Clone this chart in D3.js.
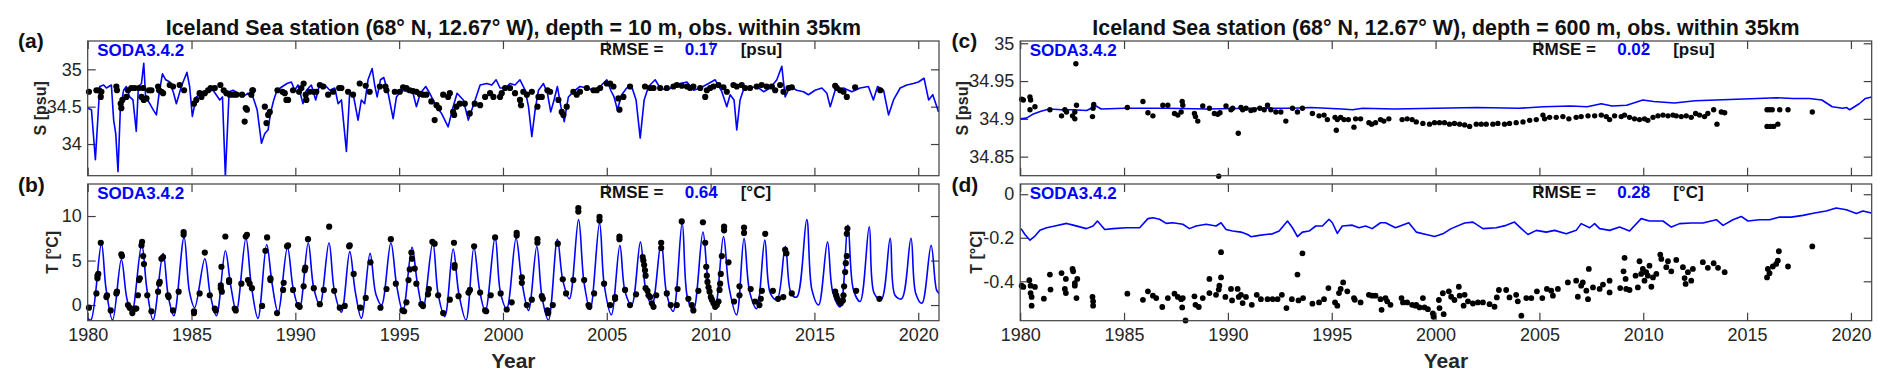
<!DOCTYPE html>
<html lang="en">
<head>
<meta charset="utf-8">
<title>Iceland Sea station</title>
<style>
  body { margin: 0; background: #fff; }
  svg text { font-family: "Liberation Sans", Arial, Helvetica, sans-serif; }
  .axis path { display: none; }
  .axis line { stroke: #404040; stroke-width: 1.2px; }
  .axis text { font-size: 18px; fill: #262626; }
  .frame { fill: none; stroke: #404040; stroke-width: 1.2px; }
  .model { fill: none; stroke: #0000ff; stroke-width: 1.6px; stroke-linejoin: round; }
  .obs { fill: #000; }
  .title { font-size: 21.4px; font-weight: bold; fill: #111; }
  .plabel { font-size: 21px; font-weight: bold; fill: #111; }
  .soda { font-size: 17px; font-weight: bold; fill: #0000ff; }
  .rmse { font-size: 17px; font-weight: bold; fill: #111; }
  .rmse.val { fill: #0000ff; }
  .ylab { font-size: 16px; font-weight: bold; fill: #262626; }
  .xlab { font-size: 21px; font-weight: bold; fill: #262626; }
</style>
</head>
<body>
<script src="https://cdnjs.cloudflare.com/ajax/libs/d3/7.8.5/d3.min.js"></script>
<script>
// ---- data (decimal year, value) ----
var yearTicks = [1980, 1985, 1990, 1995, 2000, 2005, 2010, 2015, 2020];
var yTicksA = [34, 34.5, 35];
var yTicksB = [0, 5, 10];
var yTicksC = [34.85, 34.9, 34.95, 35];
var yTicksD = [-0.4, -0.2, 0];
var titles = ["Iceland Sea station (68° N, 12.67° W), depth = 10 m, obs. within 35km",
              "Iceland Sea station (68° N, 12.67° W), depth = 600 m, obs. within 35km"];
var rmseValues = ["0.17", "0.64", "0.02", "0.28"];
var rmseUnits = ["[psu]", "[°C]", "[psu]", "[°C]"];

// (a) SODA salinity, 10 m
var salt10Model = [[1980.00,34.48],[1980.18,34.46],[1980.37,33.79],[1980.58,34.77],[1980.77,34.79],[1980.90,34.75],[1981.14,34.79],[1981.25,34.32],[1981.35,34.14],[1981.46,33.63],[1981.57,34.46],[1981.73,34.72],[1981.86,34.77],[1982.02,34.63],[1982.18,34.59],[1982.34,34.17],[1982.44,34.77],[1982.59,34.81],[1982.70,35.08],[1982.79,34.63],[1982.99,34.54],[1983.15,34.46],[1983.31,34.39],[1983.44,34.68],[1983.60,34.94],[1983.76,34.86],[1983.95,34.83],[1984.14,34.68],[1984.27,34.54],[1984.51,34.77],[1984.78,34.96],[1984.91,34.77],[1985.04,34.37],[1985.23,34.63],[1985.48,34.68],[1985.72,34.70],[1986.04,34.72],[1986.36,34.59],[1986.49,34.63],[1986.63,33.57],[1986.81,34.70],[1987.00,34.72],[1987.24,34.68],[1987.48,34.63],[1987.72,34.68],[1987.96,34.63],[1988.16,34.46],[1988.37,34.01],[1988.53,34.14],[1988.69,34.19],[1988.80,34.41],[1988.96,34.59],[1989.12,34.72],[1989.38,34.77],[1989.60,34.81],[1989.81,34.83],[1989.97,34.72],[1990.13,34.79],[1990.37,34.54],[1990.53,34.72],[1990.77,34.79],[1990.98,34.59],[1991.18,34.81],[1991.42,34.79],[1991.66,34.72],[1991.90,34.75],[1992.06,34.54],[1992.22,34.59],[1992.46,33.90],[1992.62,34.70],[1992.81,34.63],[1993.02,34.32],[1993.18,34.59],[1993.34,34.54],[1993.50,34.86],[1993.70,35.01],[1993.82,34.79],[1993.94,34.63],[1994.10,34.86],[1994.26,34.89],[1994.47,34.68],[1994.71,34.34],[1994.87,34.63],[1995.11,34.72],[1995.43,34.70],[1995.67,34.68],[1995.83,34.50],[1996.02,34.68],[1996.28,34.77],[1996.47,34.68],[1996.63,34.59],[1996.80,34.50],[1997.04,34.41],[1997.36,34.23],[1997.60,34.50],[1997.79,34.68],[1998.09,34.59],[1998.33,34.32],[1998.66,34.59],[1998.90,34.79],[1999.22,34.81],[1999.46,34.79],[1999.67,34.86],[1999.86,34.75],[2000.10,34.75],[2000.34,34.81],[2000.58,34.79],[2000.82,34.86],[2001.07,34.72],[2001.23,34.50],[2001.39,34.10],[2001.55,34.46],[2001.71,34.72],[2001.95,34.81],[2002.14,34.68],[2002.30,34.43],[2002.46,34.59],[2002.62,34.77],[2002.79,34.50],[2002.95,34.30],[2003.15,34.63],[2003.39,34.70],[2003.71,34.77],[2004.04,34.75],[2004.36,34.72],[2004.68,34.77],[2005.00,34.86],[2005.19,34.72],[2005.35,34.63],[2005.51,34.46],[2005.72,34.66],[2005.96,34.75],[2006.20,34.77],[2006.41,34.59],[2006.61,34.08],[2006.80,34.59],[2007.01,34.77],[2007.33,34.86],[2007.57,34.75],[2007.89,34.72],[2008.21,34.77],[2008.53,34.81],[2008.86,34.83],[2009.18,34.72],[2009.50,34.75],[2009.90,34.81],[2010.22,34.86],[2010.54,34.70],[2010.78,34.50],[2010.94,34.66],[2011.13,34.59],[2011.26,34.19],[2011.42,34.59],[2011.61,34.75],[2011.90,34.75],[2012.22,34.77],[2012.55,34.70],[2012.87,34.75],[2013.19,34.86],[2013.43,35.04],[2013.59,34.63],[2013.83,34.77],[2014.15,34.72],[2014.47,34.70],[2014.71,34.66],[2015.03,34.72],[2015.36,34.75],[2015.60,34.68],[2015.76,34.50],[2016.00,34.72],[2016.40,34.75],[2016.80,34.70],[2017.20,34.75],[2017.60,34.77],[2017.84,34.59],[2018.04,34.77],[2018.33,34.72],[2018.57,34.39],[2018.81,34.59],[2019.13,34.75],[2019.45,34.79],[2019.77,34.81],[2020.01,34.83],[2020.28,34.88],[2020.50,34.59],[2020.70,34.66],[2020.98,34.43]];

var salt10Obs = [[1980.06,34.70],[1980.42,34.72],[1980.55,34.72],[1980.63,34.63],[1980.66,34.70],[1981.38,34.77],[1981.41,34.72],[1981.59,34.54],[1981.62,34.48],[1981.67,34.59],[1981.86,34.63],[1981.94,34.72],[1982.10,34.75],[1982.26,34.75],[1982.47,34.75],[1982.59,34.63],[1982.67,34.75],[1982.70,34.59],[1982.83,34.61],[1982.95,34.72],[1983.07,34.72],[1983.39,34.77],[1983.44,34.72],[1983.55,34.70],[1983.63,34.68],[1983.95,34.79],[1984.11,34.77],[1984.43,34.79],[1984.64,34.72],[1985.12,34.54],[1985.23,34.59],[1985.39,34.68],[1985.48,34.63],[1985.64,34.68],[1985.80,34.72],[1985.92,34.75],[1986.12,34.75],[1986.39,34.79],[1986.55,34.72],[1986.68,34.68],[1986.84,34.66],[1987.00,34.66],[1987.16,34.66],[1987.43,34.66],[1987.56,34.30],[1987.61,34.48],[1987.67,34.46],[1987.88,34.66],[1987.93,34.72],[1987.96,34.72],[1988.53,34.50],[1988.61,34.28],[1988.69,34.39],[1988.77,34.43],[1989.14,34.72],[1989.38,34.70],[1989.49,34.68],[1989.57,34.59],[1989.65,34.59],[1989.89,34.72],[1990.18,34.70],[1990.29,34.75],[1990.40,34.81],[1990.50,34.66],[1990.53,34.59],[1990.69,34.70],[1990.89,34.70],[1991.01,34.70],[1991.18,34.79],[1991.34,34.77],[1991.58,34.66],[1991.82,34.70],[1992.11,34.75],[1992.22,34.75],[1992.54,34.70],[1992.78,34.66],[1993.10,34.81],[1993.39,34.78],[1993.58,34.70],[1994.07,34.77],[1994.34,34.77],[1994.39,34.72],[1994.79,34.70],[1995.03,34.70],[1995.19,34.76],[1995.35,34.75],[1995.51,34.72],[1995.67,34.71],[1995.83,34.70],[1995.99,34.67],[1996.15,34.66],[1996.31,34.66],[1996.55,34.57],[1996.71,34.32],[1996.80,34.52],[1996.92,34.48],[1997.12,34.66],[1997.36,34.63],[1997.44,34.68],[1997.60,34.43],[1997.65,34.39],[1997.76,34.50],[1997.92,34.54],[1998.16,34.54],[1998.40,34.41],[1998.64,34.54],[1998.90,34.52],[1999.14,34.63],[1999.38,34.68],[1999.54,34.63],[1999.86,34.63],[1999.94,34.68],[2000.10,34.75],[2000.34,34.75],[2000.58,34.68],[2000.82,34.59],[2000.87,34.52],[2000.98,34.70],[2001.15,34.66],[2001.39,34.70],[2001.66,34.50],[2001.71,34.63],[2001.87,34.63],[2002.14,34.72],[2002.27,34.70],[2002.67,34.59],[2002.83,34.43],[2002.91,34.39],[2003.07,34.50],[2003.39,34.70],[2003.55,34.66],[2003.71,34.70],[2004.04,34.75],[2004.36,34.72],[2004.52,34.72],[2004.68,34.75],[2005.00,34.81],[2005.16,34.81],[2005.32,34.77],[2005.56,34.61],[2005.61,34.46],[2005.80,34.63],[2006.12,34.77],[2006.84,34.77],[2007.09,34.75],[2007.25,34.75],[2007.57,34.75],[2007.89,34.75],[2008.21,34.77],[2008.37,34.79],[2008.61,34.78],[2008.86,34.77],[2009.01,34.75],[2009.17,34.77],[2009.50,34.75],[2009.74,34.63],[2009.82,34.72],[2009.98,34.75],[2010.14,34.77],[2010.38,34.79],[2010.62,34.76],[2010.78,34.70],[2011.10,34.79],[2011.26,34.77],[2011.50,34.79],[2011.66,34.75],[2011.90,34.75],[2012.22,34.77],[2012.46,34.79],[2012.70,34.77],[2012.95,34.77],[2013.11,34.72],[2013.35,34.79],[2013.51,34.70],[2013.75,34.75],[2013.91,34.76],[2016.00,34.78],[2016.08,34.75],[2016.24,34.72],[2016.40,34.70],[2016.56,34.63],[2016.96,34.76],[2018.17,34.72]];

// (b) SODA temperature, 10 m (winter low, summer high, autumn value per year)
var temp10Model = [[1980.00,-1.5],[1980.15,-1.7],[1980.66,6.9],[1980.88,1.9],[1981.20,-1.7],[1981.62,5.1],[1981.88,0.8],[1982.12,-1.0],[1982.60,6.8],[1982.85,1.8],[1983.15,-1.7],[1983.63,5.8],[1983.88,1.0],[1984.15,-1.2],[1984.64,7.6],[1984.90,1.5],[1985.15,-0.3],[1985.64,5.2],[1985.90,1.2],[1986.20,-1.2],[1986.63,6.1],[1986.88,2.3],[1987.16,-0.7],[1987.62,7.5],[1987.88,2.2],[1988.20,-1.5],[1988.62,6.8],[1988.88,2.4],[1989.17,-0.8],[1989.62,6.5],[1989.90,1.8],[1990.20,-0.4],[1990.62,7.0],[1990.88,2.0],[1991.18,0.0],[1991.62,7.0],[1991.88,1.6],[1992.22,-0.8],[1992.62,6.0],[1992.88,1.6],[1993.18,-1.5],[1993.60,5.8],[1993.88,1.2],[1994.15,0.0],[1994.60,7.0],[1994.88,2.2],[1995.18,-0.7],[1995.62,6.5],[1995.88,2.4],[1996.15,-0.4],[1996.62,7.0],[1996.88,1.2],[1997.20,-1.3],[1997.60,6.3],[1997.88,1.2],[1998.22,-1.7],[1998.60,6.5],[1998.88,1.6],[1999.15,-0.7],[1999.62,7.6],[1999.88,1.4],[2000.18,-0.4],[2000.63,7.5],[2000.90,2.8],[2001.23,-0.6],[2001.63,6.6],[2001.88,0.9],[2002.19,-1.7],[2002.62,7.4],[2002.88,2.8],[2003.20,0.7],[2003.64,9.6],[2003.90,2.6],[2004.20,-0.5],[2004.65,9.2],[2004.88,2.2],[2005.22,-1.1],[2005.63,6.7],[2005.88,1.5],[2006.20,0.0],[2006.62,7.1],[2006.88,1.7],[2007.18,0.0],[2007.62,7.1],[2007.88,1.3],[2008.20,-0.7],[2008.63,9.2],[2008.88,0.9],[2009.17,-0.6],[2009.63,8.2],[2009.88,2.8],[2010.22,-0.2],[2010.62,7.7],[2010.88,2.1],[2011.25,-1.1],[2011.61,7.5],[2011.88,1.5],[2012.22,-0.4],[2012.61,7.3],[2012.88,1.3],[2013.20,0.6],[2013.60,6.6],[2013.88,1.3],[2014.15,0.9],[2014.63,9.6],[2014.88,1.7],[2015.20,0.0],[2015.63,7.1],[2015.88,1.5],[2016.24,-0.2],[2016.61,9.0],[2016.88,1.7],[2017.20,0.4],[2017.64,8.8],[2017.88,1.3],[2018.22,0.6],[2018.65,7.5],[2018.88,1.1],[2019.20,0.7],[2019.65,7.5],[2019.88,1.3],[2020.18,0.2],[2020.62,6.7],[2020.88,1.7],[2021.00,1.3]];

var temp10Obs = [[1980.06,-0.3],[1980.42,1.3],[1980.47,3.0],[1980.47,3.3],[1980.51,3.5],[1980.63,7.0],[1980.90,0.9],[1980.93,1.1],[1981.11,-0.6],[1981.38,1.3],[1981.41,1.5],[1981.62,5.7],[1981.65,5.5],[1981.94,0.0],[1982.02,-0.3],[1982.15,-0.9],[1982.26,-0.4],[1982.34,-0.4],[1982.42,1.1],[1982.47,2.8],[1982.51,3.0],[1982.59,6.7],[1982.62,7.1],[1982.67,5.5],[1982.71,4.6],[1982.87,1.1],[1983.07,-0.7],[1983.39,1.5],[1983.44,2.4],[1983.47,2.6],[1983.55,5.2],[1983.63,5.4],[1983.87,1.1],[1983.90,0.9],[1984.11,-0.6],[1984.38,1.5],[1984.62,8.2],[1984.62,7.9],[1985.12,-0.7],[1985.12,-0.9],[1985.39,1.3],[1985.64,5.9],[1985.88,1.1],[1986.12,-0.4],[1986.17,-0.6],[1986.44,4.3],[1986.41,2.2],[1986.41,1.9],[1986.46,1.5],[1986.63,7.7],[1986.81,2.8],[1986.81,2.6],[1987.08,-0.4],[1987.13,-0.6],[1987.40,2.4],[1987.61,7.7],[1987.67,7.9],[1987.72,2.8],[1987.80,2.4],[1987.91,1.9],[1988.40,-0.1],[1988.56,6.1],[1988.64,7.6],[1988.80,3.0],[1988.80,2.8],[1989.12,-0.9],[1989.41,1.7],[1989.44,2.5],[1989.60,6.6],[1989.65,6.7],[1989.89,1.7],[1990.13,0.0],[1990.21,-0.2],[1990.40,2.1],[1990.45,3.9],[1990.48,4.2],[1990.61,7.4],[1990.89,1.9],[1991.18,0.1],[1991.37,1.7],[1991.63,8.8],[1991.87,1.6],[1992.14,-0.3],[1992.38,-0.1],[1992.59,6.6],[1992.62,6.7],[1992.81,3.5],[1993.13,-0.3],[1993.39,0.8],[1993.62,4.8],[1994.10,-0.3],[1994.39,1.8],[1994.60,7.4],[1994.84,2.4],[1995.16,-0.6],[1995.24,-0.7],[1995.35,0.3],[1995.45,2.8],[1995.51,4.0],[1995.59,5.9],[1995.62,5.2],[1995.75,4.1],[1995.83,2.4],[1996.07,0.1],[1996.15,-0.1],[1996.39,1.2],[1996.43,1.8],[1996.60,7.1],[1996.71,6.9],[1996.88,1.1],[1997.12,-0.9],[1997.44,0.6],[1997.64,7.0],[1997.67,4.5],[1997.67,4.2],[1997.86,1.0],[1998.34,1.4],[1998.41,1.7],[1998.61,6.6],[1998.90,1.4],[1999.14,-0.6],[1999.19,-0.7],[1999.41,1.1],[1999.62,7.6],[1999.89,1.3],[2000.18,-0.5],[2000.42,0.3],[2000.66,8.1],[2000.66,7.8],[2000.91,3.1],[2000.91,2.5],[2001.15,0.0],[2001.39,0.6],[2001.66,7.4],[2001.66,7.0],[2001.87,1.0],[2001.92,0.7],[2002.14,-0.6],[2002.18,-0.9],[2002.40,0.0],[2002.64,6.9],[2002.88,2.9],[2003.04,1.3],[2003.39,2.8],[2003.63,10.9],[2003.63,10.5],[2003.91,2.8],[2004.12,0.0],[2004.16,-0.2],[2004.39,1.3],[2004.65,9.9],[2004.65,9.5],[2004.87,2.4],[2005.16,0.0],[2005.40,0.7],[2005.40,0.9],[2005.61,7.7],[2005.61,7.4],[2005.88,1.7],[2006.12,0.0],[2006.41,1.2],[2006.73,5.4],[2006.76,5.0],[2006.80,4.5],[2006.84,3.9],[2006.87,3.3],[2006.87,1.9],[2006.96,1.6],[2007.01,1.1],[2007.09,0.9],[2007.17,0.2],[2007.25,-0.2],[2007.38,1.1],[2007.62,7.0],[2007.62,6.4],[2007.89,1.3],[2008.08,0.0],[2008.37,0.0],[2008.41,1.8],[2008.61,9.4],[2008.93,0.7],[2009.09,0.0],[2009.17,-0.6],[2009.41,1.6],[2009.63,9.3],[2009.74,7.0],[2009.79,4.3],[2009.82,3.3],[2009.85,2.6],[2009.90,2.0],[2009.95,1.5],[2010.01,0.9],[2010.06,0.6],[2010.14,0.2],[2010.22,-0.2],[2010.30,0.0],[2010.38,0.4],[2010.43,1.7],[2010.46,2.4],[2010.49,3.5],[2010.54,5.5],[2010.65,8.8],[2010.65,8.4],[2010.86,4.8],[2011.13,0.4],[2011.39,1.1],[2011.39,2.1],[2011.61,8.7],[2011.61,8.1],[2011.93,1.8],[2012.14,0.4],[2012.35,0.0],[2012.42,0.7],[2012.47,1.6],[2012.63,8.0],[2013.00,1.6],[2013.25,0.7],[2013.50,0.9],[2013.59,6.2],[2013.65,5.8],[2013.91,1.3],[2016.00,1.5],[2016.05,1.1],[2016.11,0.7],[2016.21,0.4],[2016.27,0.2],[2016.37,0.5],[2016.40,1.1],[2016.43,2.1],[2016.48,3.7],[2016.51,4.7],[2016.56,5.5],[2016.56,8.0],[2016.59,8.6],[2017.01,1.6],[2018.13,0.7]];

// (c) SODA salinity, 600 m
var salt600Model = [[1980.0,34.900],[1980.3,34.901],[1980.6,34.906],[1981.0,34.910],[1981.4,34.913],[1982.0,34.912],[1982.5,34.912],[1983.2,34.911],[1983.5,34.915],[1983.65,34.917],[1983.9,34.913],[1985.0,34.914],[1987.0,34.914],[1989.0,34.913],[1991.0,34.914],[1993.0,34.914],[1994.0,34.915],[1995.5,34.913],[1996.0,34.912],[1996.5,34.914],[1998.0,34.913],[2000.0,34.914],[2002.0,34.915],[2004.0,34.914],[2005.2,34.916],[2006.5,34.917],[2007.3,34.916],[2007.98,34.920],[2008.5,34.917],[2009.2,34.918],[2009.98,34.925],[2010.5,34.923],[2011.5,34.921],[2012.5,34.924],[2013.5,34.925],[2014.5,34.926],[2015.5,34.927],[2016.4,34.928],[2017.2,34.927],[2018.0,34.927],[2018.6,34.925],[2019.1,34.916],[2019.6,34.914],[2019.8,34.915],[2019.94,34.912],[2020.4,34.920],[2020.7,34.927],[2021.0,34.929]];

var salt600Obs = [[1980.07,34.926],[1980.15,34.925],[1980.47,34.929],[1980.50,34.925],[1980.47,34.912],[1980.71,34.916],[1981.43,34.912],[1981.99,34.904],[1982.15,34.912],[1982.23,34.909],[1982.52,34.904],[1982.63,34.900],[1982.63,34.909],[1982.71,34.918],[1982.68,34.973],[1983.48,34.903],[1983.51,34.914],[1983.54,34.919],[1985.16,34.915],[1985.91,34.923],[1986.15,34.908],[1986.39,34.904],[1986.87,34.918],[1987.11,34.918],[1987.43,34.907],[1987.59,34.905],[1987.75,34.909],[1987.80,34.923],[1987.83,34.918],[1988.39,34.907],[1988.44,34.903],[1988.55,34.897],[1988.79,34.917],[1989.11,34.914],[1989.35,34.907],[1989.51,34.906],[1989.62,34.908],[1989.56,34.824],[1989.91,34.917],[1990.15,34.912],[1990.23,34.914],[1990.50,34.881],[1990.63,34.915],[1990.71,34.912],[1990.87,34.914],[1991.11,34.911],[1991.27,34.912],[1991.54,34.914],[1991.75,34.912],[1991.91,34.918],[1992.07,34.912],[1992.31,34.909],[1992.55,34.909],[1992.79,34.897],[1993.11,34.914],[1993.35,34.909],[1993.59,34.914],[1994.07,34.907],[1994.39,34.904],[1994.63,34.905],[1994.79,34.899],[1995.16,34.902],[1995.22,34.885],[1995.27,34.899],[1995.43,34.902],[1995.59,34.899],[1995.80,34.899],[1996.07,34.889],[1996.15,34.900],[1996.39,34.900],[1996.79,34.895],[1996.92,34.893],[1997.11,34.895],[1997.35,34.899],[1997.51,34.897],[1997.75,34.900],[1998.39,34.899],[1998.63,34.900],[1998.87,34.899],[1999.07,34.896],[1999.39,34.894],[1999.71,34.893],[1999.95,34.895],[2000.19,34.895],[2000.43,34.895],[2000.67,34.893],[2000.91,34.894],[2001.16,34.893],[2001.40,34.892],[2001.64,34.890],[2001.96,34.893],[2002.20,34.893],[2002.44,34.893],[2002.76,34.893],[2003.00,34.894],[2003.32,34.893],[2003.56,34.894],[2003.88,34.895],[2004.21,34.896],[2004.53,34.898],[2004.85,34.899],[2005.17,34.905],[2005.25,34.900],[2005.49,34.902],[2005.81,34.902],[2006.13,34.903],[2006.42,34.900],[2006.77,34.902],[2007.01,34.903],[2007.34,34.904],[2007.66,34.904],[2007.98,34.905],[2008.22,34.903],[2008.38,34.899],[2008.62,34.904],[2008.94,34.903],[2009.10,34.905],[2009.34,34.902],[2009.58,34.900],[2009.82,34.899],[2010.06,34.900],[2010.22,34.898],[2010.47,34.902],[2010.71,34.904],[2010.95,34.905],[2011.19,34.904],[2011.43,34.905],[2011.59,34.904],[2011.83,34.903],[2012.07,34.904],[2012.31,34.902],[2012.52,34.907],[2012.71,34.905],[2012.95,34.903],[2013.11,34.907],[2013.39,34.912],[2013.55,34.893],[2013.76,34.909],[2013.92,34.908],[2015.96,34.912],[2016.08,34.912],[2016.21,34.912],[2015.96,34.890],[2016.12,34.890],[2016.28,34.890],[2016.48,34.893],[2016.57,34.912],[2016.97,34.912],[2018.14,34.909]];

// (d) SODA temperature, 600 m
var temp600Model = [[1980.04,-0.158],[1980.23,-0.185],[1980.47,-0.211],[1980.71,-0.192],[1980.95,-0.165],[1981.27,-0.154],[1981.67,-0.146],[1982.23,-0.134],[1982.55,-0.142],[1983.19,-0.158],[1983.51,-0.146],[1983.72,-0.123],[1984.07,-0.162],[1984.47,-0.158],[1985.11,-0.154],[1985.75,-0.154],[1986.15,-0.112],[1986.39,-0.108],[1986.71,-0.115],[1987.03,-0.134],[1987.35,-0.131],[1987.83,-0.138],[1988.15,-0.158],[1988.47,-0.146],[1988.95,-0.138],[1989.43,-0.146],[1989.67,-0.131],[1989.91,-0.162],[1990.23,-0.169],[1990.63,-0.174],[1990.95,-0.185],[1991.11,-0.195],[1991.51,-0.189],[1991.83,-0.185],[1992.15,-0.182],[1992.47,-0.169],[1992.87,-0.123],[1993.11,-0.154],[1993.35,-0.195],[1993.59,-0.174],[1993.91,-0.169],[1994.23,-0.146],[1994.55,-0.146],[1994.87,-0.115],[1995.03,-0.131],[1995.27,-0.180],[1995.51,-0.146],[1995.99,-0.142],[1996.31,-0.154],[1996.63,-0.146],[1996.95,-0.158],[1997.35,-0.131],[1997.59,-0.131],[1998.07,-0.154],[1998.39,-0.142],[1998.71,-0.131],[1999.07,-0.174],[1999.55,-0.185],[1999.95,-0.194],[2000.35,-0.182],[2000.75,-0.158],[2001.40,-0.132],[2001.80,-0.128],[2002.28,-0.158],[2002.92,-0.154],[2003.40,-0.143],[2003.80,-0.128],[2004.13,-0.158],[2004.45,-0.185],[2004.85,-0.166],[2005.33,-0.174],[2005.73,-0.166],[2006.29,-0.182],[2006.77,-0.166],[2007.01,-0.135],[2007.42,-0.154],[2007.66,-0.135],[2007.90,-0.158],[2008.38,-0.166],[2008.86,-0.151],[2009.34,-0.169],[2009.90,-0.112],[2010.30,-0.123],[2010.95,-0.123],[2011.35,-0.151],[2011.75,-0.135],[2012.31,-0.132],[2012.87,-0.132],[2013.52,-0.117],[2013.84,-0.143],[2014.32,-0.117],[2014.72,-0.102],[2015.04,-0.123],[2015.60,-0.117],[2016.08,-0.117],[2016.57,-0.105],[2017.13,-0.105],[2017.69,-0.097],[2018.25,-0.086],[2018.81,-0.077],[2019.29,-0.063],[2019.78,-0.071],[2020.26,-0.089],[2020.58,-0.077],[2020.98,-0.086]];

var temp600Obs = [[1980.07,-0.420],[1980.15,-0.426],[1980.44,-0.395],[1980.50,-0.420],[1980.50,-0.454],[1980.55,-0.472],[1980.55,-0.512],[1980.71,-0.426],[1981.14,-0.480],[1981.43,-0.369],[1981.46,-0.438],[1981.99,-0.362],[1982.20,-0.389],[1982.15,-0.435],[1982.20,-0.454],[1982.52,-0.343],[1982.55,-0.354],[1982.63,-0.408],[1982.63,-0.420],[1982.75,-0.389],[1982.71,-0.477],[1983.48,-0.472],[1983.51,-0.492],[1983.51,-0.512],[1985.16,-0.457],[1985.91,-0.485],[1986.15,-0.446],[1986.39,-0.466],[1986.55,-0.477],[1986.84,-0.518],[1987.11,-0.477],[1987.43,-0.457],[1987.59,-0.472],[1987.75,-0.482],[1987.83,-0.477],[1987.80,-0.520],[1987.96,-0.580],[1988.39,-0.469],[1988.44,-0.508],[1988.60,-0.518],[1988.79,-0.477],[1989.11,-0.389],[1989.11,-0.454],[1989.43,-0.462],[1989.56,-0.438],[1989.59,-0.420],[1989.67,-0.266],[1989.67,-0.382],[1989.88,-0.472],[1990.15,-0.435],[1990.20,-0.488],[1990.47,-0.435],[1990.52,-0.472],[1990.63,-0.462],[1990.71,-0.500],[1990.87,-0.472],[1991.15,-0.508],[1991.39,-0.462],[1991.59,-0.482],[1991.91,-0.482],[1992.15,-0.482],[1992.39,-0.482],[1992.60,-0.462],[1992.82,-0.523],[1993.08,-0.482],[1993.35,-0.369],[1993.40,-0.488],[1993.59,-0.272],[1993.62,-0.477],[1994.07,-0.503],[1994.39,-0.497],[1994.63,-0.482],[1994.84,-0.431],[1995.16,-0.497],[1995.27,-0.512],[1995.35,-0.454],[1995.43,-0.435],[1995.55,-0.405],[1995.75,-0.446],[1996.07,-0.477],[1996.11,-0.485],[1996.39,-0.497],[1996.79,-0.462],[1996.95,-0.466],[1997.11,-0.466],[1997.35,-0.482],[1997.40,-0.531],[1997.59,-0.477],[1997.67,-0.492],[1997.83,-0.508],[1998.36,-0.477],[1998.43,-0.497],[1998.63,-0.497],[1998.87,-0.508],[1999.03,-0.512],[1999.07,-0.508],[1999.23,-0.520],[1999.39,-0.477],[1999.47,-0.520],[1999.63,-0.528],[1999.87,-0.548],[1999.90,-0.563],[2000.16,-0.486],[2000.19,-0.523],[2000.39,-0.551],[2000.35,-0.455],[2000.64,-0.446],[2000.75,-0.471],[2000.91,-0.486],[2001.12,-0.425],[2001.16,-0.466],[2001.40,-0.462],[2001.35,-0.512],[2001.56,-0.492],[2001.80,-0.502],[2002.04,-0.497],[2002.28,-0.497],[2002.60,-0.505],[2002.84,-0.517],[2002.95,-0.474],[2003.05,-0.440],[2003.40,-0.440],[2003.56,-0.474],[2003.88,-0.462],[2003.96,-0.492],[2004.13,-0.558],[2004.37,-0.477],[2004.61,-0.477],[2004.88,-0.446],[2005.14,-0.477],[2005.36,-0.435],[2005.57,-0.443],[2005.65,-0.466],[2005.89,-0.435],[2006.37,-0.405],[2006.77,-0.397],[2006.85,-0.471],[2007.01,-0.420],[2007.09,-0.405],[2007.26,-0.443],[2007.34,-0.482],[2007.38,-0.343],[2007.58,-0.428],[2007.90,-0.435],[2008.06,-0.415],[2008.38,-0.451],[2008.38,-0.397],[2008.89,-0.431],[2009.05,-0.354],[2009.10,-0.292],[2009.15,-0.389],[2009.18,-0.435],[2009.34,-0.440],[2009.63,-0.374],[2009.74,-0.428],[2009.82,-0.308],[2009.90,-0.366],[2009.98,-0.343],[2010.06,-0.397],[2010.14,-0.358],[2010.22,-0.374],[2010.30,-0.328],[2010.39,-0.425],[2010.47,-0.382],[2010.63,-0.366],[2010.82,-0.277],[2010.87,-0.297],[2011.11,-0.335],[2011.19,-0.308],[2011.35,-0.354],[2011.59,-0.302],[2011.91,-0.335],[2011.99,-0.385],[2012.04,-0.412],[2012.15,-0.358],[2012.31,-0.397],[2012.39,-0.343],[2012.87,-0.312],[2013.11,-0.338],[2013.39,-0.317],[2013.60,-0.338],[2013.92,-0.358],[2015.96,-0.382],[2016.00,-0.343],[2016.08,-0.363],[2016.24,-0.332],[2016.40,-0.320],[2016.48,-0.305],[2016.53,-0.262],[2016.97,-0.332],[2018.14,-0.240]];

// ---- layout ----
var W = 1892, H = 388;
var svg = d3.select("body").append("svg").attr("width", W).attr("height", H);

var colLeft = [87.7, 1020.2], colRight = [939, 1871.7];
var rowTop = [41, 184], rowBottom = [175.7, 320.7];

var panels = [
  { id: "a", col: 0, row: 0, dom: [33.576, 35.379], ticks: yTicksA, model: salt10Model, obs: salt10Obs, ylab: "S [psu]", ylabDx: -42, r: 3.1, curve: d3.curveLinear },
  { id: "b", col: 0, row: 1, dom: [-1.76, 13.6], ticks: yTicksB, model: temp10Model, obs: temp10Obs, ylab: "T [°C]", ylabDx: -30, r: 3.1, curve: d3.curveCatmullRom.alpha(0.5) },
  { id: "c", col: 1, row: 0, dom: [34.8248, 35.003], ticks: yTicksC, model: salt600Model, obs: salt600Obs, ylab: "S [psu]", ylabDx: -52, r: 2.7, curve: d3.curveLinear },
  { id: "d", col: 1, row: 1, dom: [-0.581, 0.047], ticks: yTicksD, model: temp600Model, obs: temp600Obs, ylab: "T [°C]", ylabDx: -38, r: 2.9, curve: d3.curveLinear }
];

var defs = svg.append("defs");

panels.forEach(function(p, i) {
  var x0 = colLeft[p.col], x1 = colRight[p.col];
  var y0 = rowTop[p.row], y1 = rowBottom[p.row];
  var x = d3.scaleLinear().domain([1980, 2021]).range([x0, x1]);
  var y = d3.scaleLinear().domain(p.dom).range([y1, y0]);

  defs.append("clipPath").attr("id", "clip" + p.id)
    .append("rect").attr("x", x0).attr("y", y0).attr("width", x1 - x0).attr("height", y1 - y0);

  var g = svg.append("g");

  // axes, inward ticks on all four sides
  g.append("g").attr("class", "axis")
    .attr("transform", "translate(0," + y1 + ")")
    .call(d3.axisBottom(x).tickValues(yearTicks).tickSize(-8).tickPadding(8)
      .tickFormat(p.row === 1 ? d3.format("d") : ""));
  g.append("g").attr("class", "axis")
    .attr("transform", "translate(0," + y0 + ")")
    .call(d3.axisTop(x).tickValues(yearTicks).tickSize(-8).tickFormat(""));
  g.append("g").attr("class", "axis")
    .attr("transform", "translate(" + x0 + ",0)")
    .call(d3.axisLeft(y).tickValues(p.ticks).tickSize(-8).tickPadding(6)
      .tickFormat(function(d) { return String(d); }));
  g.append("g").attr("class", "axis")
    .attr("transform", "translate(" + x1 + ",0)")
    .call(d3.axisRight(y).tickValues(p.ticks).tickSize(-8).tickFormat(""));

  var line = d3.line().curve(p.curve)
    .x(function(d) { return x(d[0]); })
    .y(function(d) { return y(d[1]); });

  g.append("path").datum(p.model)
    .attr("class", "model")
    .attr("clip-path", "url(#clip" + p.id + ")")
    .attr("d", line);

  g.selectAll("circle.obs").data(p.obs).enter().append("circle")
    .attr("class", "obs")
    .attr("cx", function(d) { return x(d[0]); })
    .attr("cy", function(d) { return y(d[1]); })
    .attr("r", p.r);

  g.append("rect").attr("class", "frame")
    .attr("x", x0).attr("y", y0).attr("width", x1 - x0).attr("height", y1 - y0);

  // labels
  g.append("text").attr("class", "soda")
    .attr("x", x0 + 9.5).attr("y", y0 + 15).text("SODA3.4.2");
  g.append("text").attr("class", "rmse").attr("x", x0 + 512).attr("y", y0 + 14).text("RMSE =");
  g.append("text").attr("class", "rmse val").attr("x", x0 + 597).attr("y", y0 + 14).text(rmseValues[i]);
  g.append("text").attr("class", "rmse").attr("x", x0 + 653).attr("y", y0 + 14).text(rmseUnits[i]);

  g.append("text").attr("class", "plabel")
    .attr("x", p.col === 0 ? 18 : 951.5)
    .attr("y", p.row === 0 ? 48 : 192)
    .text("(" + p.id + ")");

  g.append("text").attr("class", "ylab")
    .attr("text-anchor", "middle")
    .attr("transform", "translate(" + (x0 + p.ylabDx) + "," + ((y0 + y1) / 2) + ") rotate(-90)")
    .text(p.ylab);

  if (p.row === 0) {
    svg.append("text").attr("class", "title").attr("text-anchor", "middle")
      .attr("x", (x0 + x1) / 2).attr("y", 35).text(titles[p.col]);
  } else {
    svg.append("text").attr("class", "xlab").attr("text-anchor", "middle")
      .attr("x", (x0 + x1) / 2).attr("y", 368).text("Year");
  }
});
</script>
</body>
</html>
